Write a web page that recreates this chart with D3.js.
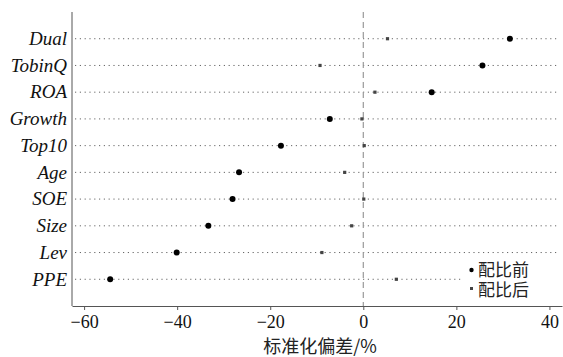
<!DOCTYPE html>
<html>
<head>
<meta charset="utf-8">
<script src="https://cdn.jsdelivr.net/npm/d3@7"></script>
<style>
  body { margin: 0; background: #fff; }
  svg { display: block; }
</style>
</head>
<body>
<svg id="chart"></svg>
<script>
const width = 563, height = 357;

// standardized bias (%) per covariate
const variables = ['Dual', 'TobinQ', 'ROA', 'Growth', 'Top10', 'Age', 'SOE', 'Size', 'Lev', 'PPE'];
const before = [31.5, 25.6, 14.7, -7.2, -17.7, -26.7, -28.1, -33.3, -40.1, -54.4];
const after = [5.2, -9.3, 2.5, -0.3, 0.2, -4.0, 0.1, -2.5, -8.9, 7.1];
const xTicks = [-60, -40, -20, 0, 20, 40];
const legendLabels = ['配比前', '配比后'];

const plotL = 72, plotR = 562, plotT = 12, plotB = 306;

const svg = d3.select('#chart')
  .attr('width', width)
  .attr('height', height);

const x = d3.scaleLinear().domain([-62.6, 42.7]).range([plotL, plotR]);
const y = d3.scalePoint().domain(variables).range([plotT, plotB]).padding(1);

// dotted guide lines
svg.append('g')
  .selectAll('line')
  .data(variables)
  .join('line')
  .attr('x1', plotL + 3)
  .attr('x2', plotR - 3)
  .attr('y1', d => y(d))
  .attr('y2', d => y(d))
  .attr('stroke', '#666')
  .attr('stroke-width', 1)
  .attr('stroke-dasharray', '1.2,3.6');

// zero reference
svg.append('line')
  .attr('x1', x(0)).attr('x2', x(0))
  .attr('y1', plotT).attr('y2', plotB)
  .attr('stroke', '#999')
  .attr('stroke-width', 1.2)
  .attr('stroke-dasharray', '6,4');

// after matching: small squares
svg.append('g')
  .selectAll('rect')
  .data(after)
  .join('rect')
  .attr('x', d => x(d) - 1.6)
  .attr('y', (d, i) => y(variables[i]) - 1.6)
  .attr('width', 3.2)
  .attr('height', 3.2)
  .attr('fill', '#444');

// before matching: dots
svg.append('g')
  .selectAll('circle')
  .data(before)
  .join('circle')
  .attr('cx', d => x(d))
  .attr('cy', (d, i) => y(variables[i]))
  .attr('r', 3)
  .attr('fill', '#000');

// legend box
const legend = svg.append('g');
legend.append('rect')
  .attr('x', 462).attr('y', 259)
  .attr('width', 98).attr('height', 42)
  .attr('fill', '#fff');
legend.append('circle')
  .attr('cx', 471.5).attr('cy', 270)
  .attr('r', 2.2).attr('fill', '#000');
legend.append('rect')
  .attr('x', 470).attr('y', 287)
  .attr('width', 3).attr('height', 3)
  .attr('fill', '#444');
legend.selectAll('text')
  .data(legendLabels)
  .join('text')
  .attr('x', 478)
  .attr('y', (d, i) => 276 + i * 20)
  .attr('font-family', '"Noto Sans CJK SC", sans-serif')
  .attr('font-size', 17)
  .attr('fill', '#222')
  .text(d => d);

// y axis line + labels
svg.append('line')
  .attr('x1', plotL).attr('x2', plotL)
  .attr('y1', plotT).attr('y2', plotB)
  .attr('stroke', '#555')
  .attr('stroke-width', 1);

svg.append('g')
  .selectAll('text')
  .data(variables)
  .join('text')
  .attr('x', plotL - 5)
  .attr('y', d => y(d))
  .attr('dy', '0.33em')
  .attr('text-anchor', 'end')
  .attr('font-family', '"Liberation Serif", serif')
  .attr('font-style', 'italic')
  .attr('font-size', 19)
  .attr('fill', '#111')
  .text(d => d);

// x axis
const xAxis = svg.append('g')
  .attr('transform', `translate(0,${plotB})`)
  .call(d3.axisBottom(x).tickValues(xTicks).tickSizeInner(4).tickSizeOuter(0).tickPadding(5));
xAxis.attr('font-family', '"Liberation Serif", serif');
xAxis.select('.domain').attr('stroke', '#555');
xAxis.selectAll('.tick line').attr('stroke', '#555');
xAxis.selectAll('.tick text')
  .attr('font-family', '"Liberation Serif", serif')
  .attr('font-size', 18)
  .attr('fill', '#111');

svg.append('text')
  .attr('x', 320)
  .attr('y', 353)
  .attr('text-anchor', 'middle')
  .attr('font-family', '"Noto Sans CJK SC", sans-serif')
  .attr('font-size', 18)
  .attr('fill', '#222')
  .text('标准化偏差/%');
</script>
</body>
</html>
